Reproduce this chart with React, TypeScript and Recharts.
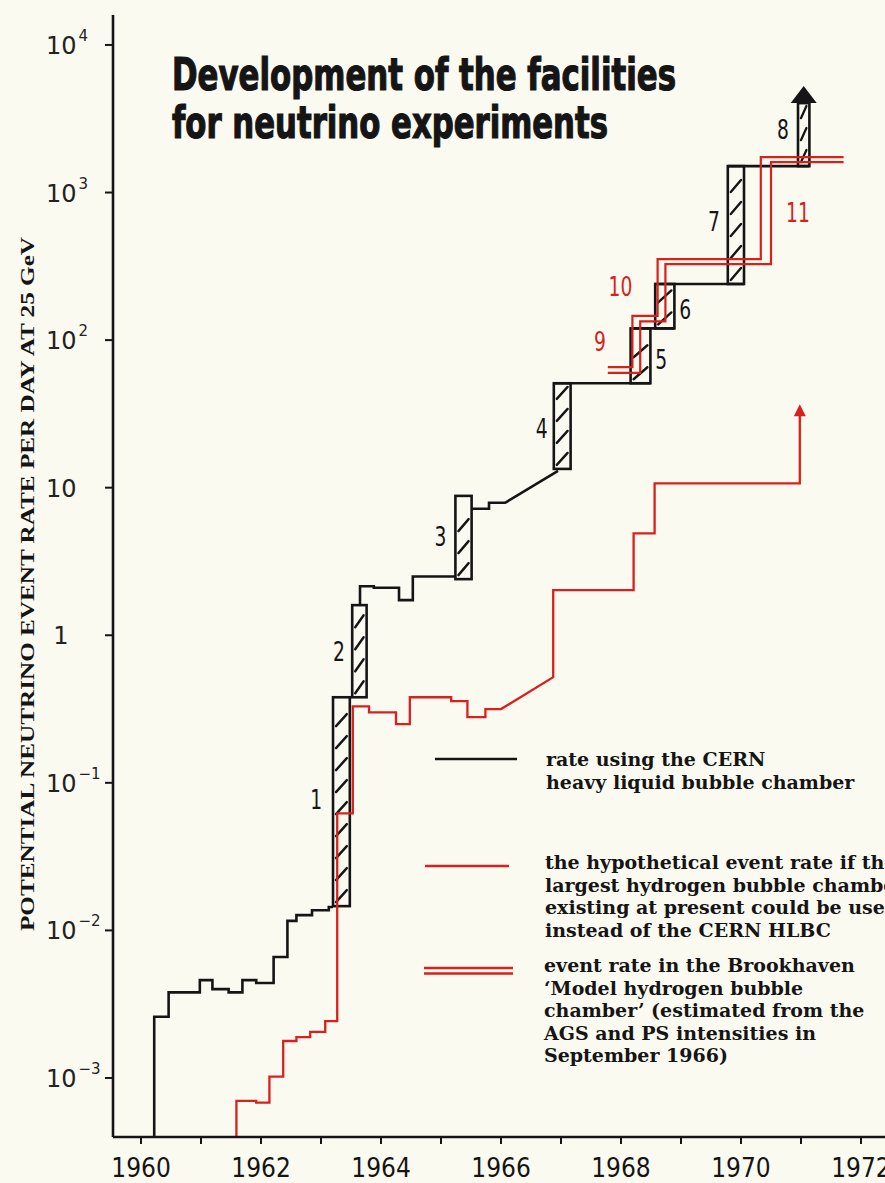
import { LineChart, Line, XAxis, YAxis, ReferenceArea, ReferenceDot } from "recharts";

// ---- data (years, events per day) ----
const xTicks = [1960, 1961, 1962, 1963, 1964, 1965, 1966, 1967, 1968, 1969, 1970, 1971, 1972];
const yTicks = [0.001, 0.01, 0.1, 1, 10, 100, 1000, 10000];

// CERN heavy liquid bubble chamber (black line), traced vertices
const cernEarlyYears = [1960.22, 1960.22, 1960.46, 1960.46, 1960.98, 1960.98, 1961.19, 1961.19, 1961.46, 1961.46, 1961.69, 1961.69, 1961.92, 1961.92, 1962.21, 1962.21, 1962.44, 1962.44, 1962.59, 1962.59, 1962.85, 1962.85, 1963.13, 1963.13, 1963.2];
const cernEarlyRates = [0.0004, 0.0026, 0.0026, 0.0038, 0.0038, 0.0046, 0.0046, 0.004, 0.004, 0.0038, 0.0038, 0.0046, 0.0046, 0.0044, 0.0044, 0.0066, 0.0066, 0.0116, 0.0116, 0.0127, 0.0127, 0.0137, 0.0137, 0.0144, 0.0144];
const cernMidYears = [1963.65, 1963.65, 1963.88, 1963.88, 1964.3, 1964.3, 1964.53, 1964.53, 1965.24];
const cernMidRates = [1.6, 2.15, 2.15, 2.1, 2.1, 1.73, 1.73, 2.5, 2.5];
const cernLateYears = [1965.51, 1965.8, 1965.8, 1966.07, 1966.95];
const cernLateRates = [7.2, 7.2, 7.9, 7.9, 13];
const plateauStart = [1966.88, 1968.16, 1968.57, 1969.78];
const plateauEnd = [1968.49, 1968.89, 1970.05, 1971.14];
const plateauRate = [51, 120, 240, 1510];

// hatched boxes 1-8 (improvements of the facilities)
const boxStart = [1963.2, 1963.52, 1965.24, 1966.88, 1968.16, 1968.57, 1969.78, 1970.95];
const boxEnd = [1963.48, 1963.76, 1965.51, 1967.16, 1968.49, 1968.89, 1970.05, 1971.14];
const boxLow = [0.0146, 0.38, 2.4, 13.4, 51, 120, 240, 1510];
const boxHigh = [0.38, 1.6, 8.8, 51, 120, 240, 1510, 4036];

// hypothetical hydrogen chamber rate (red line)
const hypoYears = [1961.59, 1961.59, 1961.92, 1961.92, 1962.14, 1962.14, 1962.37, 1962.37, 1962.59, 1962.59, 1962.82, 1962.82, 1963.07, 1963.07, 1963.27, 1963.27, 1963.53, 1963.53, 1963.8, 1963.8, 1964.25, 1964.25, 1964.48, 1964.48, 1965.17, 1965.17, 1965.44, 1965.44, 1965.74, 1965.74, 1966.0, 1966.87, 1966.87, 1968.21, 1968.21, 1968.56, 1968.56, 1970.98, 1970.98];
const hypoRates = [0.0004, 0.0007, 0.0007, 0.00068, 0.00068, 0.00102, 0.00102, 0.00178, 0.00178, 0.00189, 0.00189, 0.00205, 0.00205, 0.00243, 0.00243, 0.062, 0.062, 0.33, 0.33, 0.3, 0.3, 0.25, 0.25, 0.38, 0.38, 0.358, 0.358, 0.279, 0.279, 0.316, 0.316, 0.52, 2.02, 2.02, 4.9, 4.9, 10.7, 10.7, 31];

// Brookhaven model hydrogen chamber (double red line)
const bnlOuterYears = [1967.78, 1968.19, 1968.19, 1968.61, 1968.61, 1970.33, 1970.33, 1971.71];
const bnlOuterRates = [65.6, 65.6, 146, 146, 354, 354, 1740, 1740];
const bnlInnerYears = [1967.78, 1968.32, 1968.32, 1968.74, 1968.74, 1970.5, 1970.5, 1971.71];
const bnlInnerRates = [60, 60, 134, 134, 327, 327, 1607, 1607];

// number annotations
const blackLabels = ["1", "2", "3", "4", "5", "6", "7", "8"];
const blackLabelYears = [1962.92, 1963.3, 1964.99, 1966.68, 1968.67, 1969.07, 1969.55, 1970.7];
const blackLabelRates = [0.0764, 0.77, 4.62, 24.9, 73, 160, 631, 2650];
const redLabels = ["9", "10", "11"];
const redLabelYears = [1967.65, 1967.99, 1970.95];
const redLabelRates = [97, 229, 724];

const BLACK = "#151515";
const RED = "#d8211c";
const NARROW = "'DejaVu Sans Condensed', 'Liberation Sans Narrow', sans-serif";

const toPoints = (xs: number[], ys: number[]) => xs.map((x, i) => ({ x, y: ys[i] }));

const blackSegments = [
    toPoints(cernEarlyYears, cernEarlyRates),
    toPoints(cernMidYears, cernMidRates),
    toPoints(cernLateYears, cernLateRates),
    ...plateauRate.map((r, i) => toPoints([plateauStart[i], plateauEnd[i]], [r, r])),
];

const XTick = ({ x, y, payload }: any) => {
    if (payload.value % 2 !== 0) return <g />;
    return (
        <text x={x} y={y + 31} textAnchor="middle" fontSize={26} fill={BLACK} fontFamily={NARROW}>
            {payload.value}
        </text>
    );
};

const YTick = ({ x, y, payload }: any) => {
    const exp = Math.round(Math.log10(payload.value));
    const sx = x - 57;
    const style = { fontFamily: "'DejaVu Sans', sans-serif", fill: "#222" };
    if (exp === 0) {
        return <text x={sx + 15} y={y + 9} textAnchor="middle" fontSize={24} style={style}>1</text>;
    }
    return (
        <text x={sx} y={y + 9} fontSize={24} style={style}>
            10
            {exp !== 1 && (
                <tspan dx={2} dy={-13} fontSize={15}>
                    {exp < 0 ? "\u2212" + -exp : exp}
                </tspan>
            )}
        </text>
    );
};

const HatchBox = ({ x, y, width, height }: any) => {
    const strokes = [];
    for (let yy = y + height - 4; yy - 12 > y + 2; yy -= 22) {
        strokes.push(<line key={yy} x1={x + 3} y1={yy} x2={x + width - 3} y2={yy - 12} />);
    }
    return (
        <g>
            <rect x={x} y={y} width={width} height={height} fill="none" stroke={BLACK} strokeWidth={2.6} />
            <g stroke={BLACK} strokeWidth={2.4} strokeLinecap="round">{strokes}</g>
        </g>
    );
};

const NumberLabel = (text: string, color: string) => (p: any) => (
    <text transform={`translate(${p.cx},${p.cy + 9}) scale(0.8,1)`} textAnchor="middle" fontSize={26} fill={color} fontFamily={NARROW}>
        {text}
    </text>
);

const BigArrow = (p: any) => (
    <polygon points={`${p.cx - 13},${p.cy} ${p.cx + 13},${p.cy} ${p.cx},${p.cy - 17}`} fill={BLACK} />
);
const RedArrow = (p: any) => (
    <polygon points={`${p.cx - 6},${p.cy + 1} ${p.cx + 6},${p.cy + 1} ${p.cx},${p.cy - 11}`} fill={RED} />
);

const legendText: React.CSSProperties = {
    position: "absolute",
    fontFamily: "'DejaVu Serif', serif",
    fontWeight: 700,
    fontSize: 19,
    lineHeight: "22.6px",
    color: BLACK,
    whiteSpace: "nowrap",
};

export default function App() {
    return (
        <div style={{ position: "absolute", left: 0, top: 0, width: 885, height: 1183, overflow: "hidden", background: "#fbfaf1" }}>
            <LineChart width={885} height={1183} margin={{ top: 15, right: 0, left: 13, bottom: 0 }}>
                <XAxis
                    type="number"
                    dataKey="x"
                    domain={[1959.533, 1972.4]}
                    allowDataOverflow
                    ticks={xTicks}
                    interval={0}
                    height={46}
                    tickSize={7}
                    axisLine={{ stroke: BLACK, strokeWidth: 2.6 }}
                    tickLine={{ stroke: BLACK, strokeWidth: 2 }}
                    tick={<XTick />}
                />
                <YAxis
                    type="number"
                    scale="log"
                    domain={[Math.pow(10, -3.4), Math.pow(10, 4.203)]}
                    allowDataOverflow
                    ticks={yTicks}
                    interval={0}
                    width={100}
                    tickSize={8}
                    axisLine={{ stroke: BLACK, strokeWidth: 2.6 }}
                    tickLine={{ stroke: BLACK, strokeWidth: 2 }}
                    tick={<YTick />}
                />
                {blackSegments.map((seg, i) => (
                    <Line key={"b" + i} data={seg} dataKey="y" type="linear" stroke={BLACK} strokeWidth={2.6}
                        dot={false} activeDot={false} isAnimationActive={false} />
                ))}
                <Line data={toPoints(hypoYears, hypoRates)} dataKey="y" type="linear" stroke={RED} strokeWidth={2.3}
                    dot={false} activeDot={false} isAnimationActive={false} />
                <Line data={toPoints(bnlOuterYears, bnlOuterRates)} dataKey="y" type="linear" stroke={RED} strokeWidth={2.2}
                    dot={false} activeDot={false} isAnimationActive={false} />
                <Line data={toPoints(bnlInnerYears, bnlInnerRates)} dataKey="y" type="linear" stroke={RED} strokeWidth={2.2}
                    dot={false} activeDot={false} isAnimationActive={false} />
                {boxStart.map((x1, i) => (
                    <ReferenceArea key={"box" + i} x1={x1} x2={boxEnd[i]} y1={boxLow[i]} y2={boxHigh[i]} shape={<HatchBox />} />
                ))}
                <ReferenceDot x={(boxStart[7] + boxEnd[7]) / 2} y={boxHigh[7]} r={0} shape={BigArrow} />
                <ReferenceDot x={hypoYears[hypoYears.length - 1]} y={hypoRates[hypoRates.length - 1]} r={0} shape={RedArrow} />
                {blackLabels.map((t, i) => (
                    <ReferenceDot key={"bl" + i} x={blackLabelYears[i]} y={blackLabelRates[i]} r={0} shape={NumberLabel(t, BLACK)} />
                ))}
                {redLabels.map((t, i) => (
                    <ReferenceDot key={"rl" + i} x={redLabelYears[i]} y={redLabelRates[i]} r={0} shape={NumberLabel(t, RED)} />
                ))}
            </LineChart>

            <svg width={885} height={1183} style={{ position: "absolute", left: 0, top: 0, pointerEvents: "none" }}>
                <g fontFamily={NARROW} fontWeight={700} fontSize={44} fill={BLACK} stroke={BLACK} strokeWidth={1.2}>
                    <text x={172} y={90} textLength={504} lengthAdjust="spacingAndGlyphs">Development of the facilities</text>
                    <text x={172} y={138} textLength={436} lengthAdjust="spacingAndGlyphs">for neutrino experiments</text>
                </g>
                <text
                    transform="translate(34,584) rotate(-90)"
                    textAnchor="middle"
                    fontFamily="'Liberation Serif', serif"
                    fontWeight={700}
                    fontSize={19}
                    fill={BLACK}
                    textLength={694}
                    lengthAdjust="spacingAndGlyphs"
                >
                    POTENTIAL NEUTRINO EVENT RATE PER DAY AT 25 GeV
                </text>
                <line x1={435} y1={759} x2={517} y2={759} stroke={BLACK} strokeWidth={2.6} />
                <line x1={425} y1={866} x2={509} y2={866} stroke={RED} strokeWidth={2.4} />
                <line x1={424} y1={968} x2={513} y2={968} stroke={RED} strokeWidth={2.4} />
                <line x1={424} y1={973.5} x2={513} y2={973.5} stroke={RED} strokeWidth={2.4} />
            </svg>

            <div style={{ ...legendText, left: 546, top: 748 }}>
                rate using the CERN<br />heavy liquid bubble chamber
            </div>
            <div style={{ ...legendText, left: 545, top: 851 }}>
                the hypothetical event rate if the<br />largest hydrogen bubble chamber<br />existing at present could be used<br />instead of the CERN HLBC
            </div>
            <div style={{ ...legendText, left: 544, top: 954 }}>
                event rate in the Brookhaven<br />‘Model hydrogen bubble<br />chamber’ (estimated from the<br />AGS and PS intensities in<br />September 1966)
            </div>
        </div>
    );
}
